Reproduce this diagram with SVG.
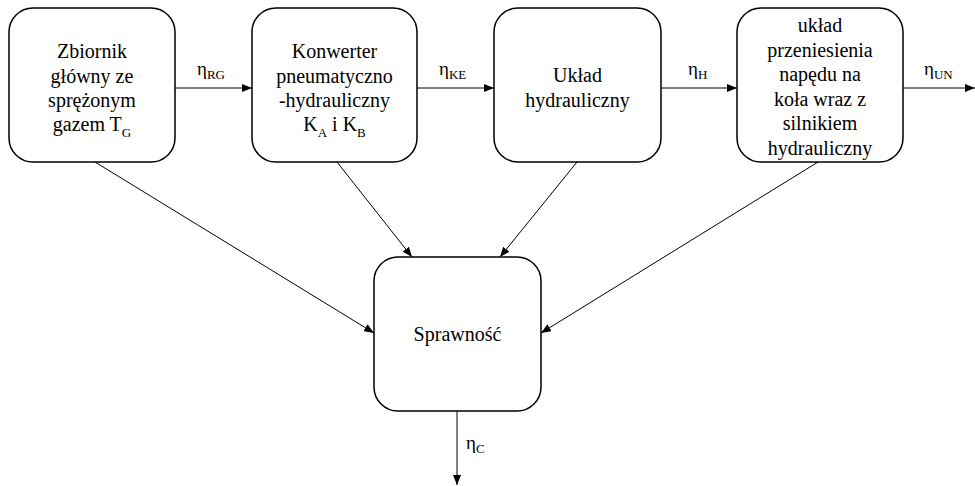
<svg xmlns="http://www.w3.org/2000/svg" width="975" height="486" viewBox="0 0 975 486">
<defs>
<marker id="ah" viewBox="0 0 10 8" refX="10" refY="4" markerWidth="10" markerHeight="8" markerUnits="userSpaceOnUse" orient="auto">
<path d="M0,0 L10,4 L0,8 Z" fill="#000"/>
</marker>
</defs>
<style>
text{font-family:'Liberation Serif','Times New Roman',serif;fill:#000}
.box{fill:#fff;stroke:#000;stroke-width:1.5}
.t{font-size:20px;text-anchor:middle}
.l{font-size:19px}
.s{font-size:13px}
.c{stroke:#000;stroke-width:1;fill:none;marker-end:url(#ah)}
</style>
<rect width="975" height="486" fill="#fff"/>
<g id="connectors">
<line class="c" x1="175" y1="88" x2="252" y2="88"/>
<line class="c" x1="417" y1="88" x2="494" y2="88"/>
<line class="c" x1="661" y1="88" x2="737" y2="88"/>
<line class="c" x1="903" y1="88" x2="975" y2="88"/>
<line class="c" x1="95" y1="162" x2="374" y2="333"/>
<line class="c" x1="337" y1="162" x2="412" y2="257"/>
<line class="c" x1="577" y1="162" x2="500" y2="257"/>
<line class="c" x1="818" y1="162" x2="541" y2="333"/>
<line class="c" x1="457" y1="411" x2="457" y2="485"/>
<text class="l" x="197" y="75">η<tspan class="s" dy="4">RG</tspan></text>
<text class="l" x="439" y="75">η<tspan class="s" dy="4">KE</tspan></text>
<text class="l" x="688" y="75">η<tspan class="s" dy="4">H</tspan></text>
<text class="l" x="924" y="75">η<tspan class="s" dy="4">UN</tspan></text>
<text class="l" x="466" y="449">η<tspan class="s" dy="4">C</tspan></text>
</g>
<g id="n1">
<rect class="box" x="9" y="8" width="166" height="154" rx="24"/>
<text class="t" x="92" y="58">Zbiornik</text>
<text class="t" x="92" y="82.5">główny ze</text>
<text class="t" x="92" y="107">sprężonym</text>
<text class="t" x="92" y="131">gazem T<tspan class="s" dy="6">G</tspan></text>
</g>
<g id="n2">
<rect class="box" x="252" y="8" width="165" height="154" rx="24"/>
<text class="t" x="334.5" y="58">Konwerter</text>
<text class="t" x="334.5" y="82.5">pneumatyczno</text>
<text class="t" x="334.5" y="107">-hydrauliczny</text>
<text class="t" x="334.5" y="131">K<tspan class="s" dy="6">A</tspan><tspan dy="-6"> i K</tspan><tspan class="s" dy="6">B</tspan></text>
</g>
<g id="n3">
<rect class="box" x="494" y="8" width="167" height="154" rx="24"/>
<text class="t" x="577.5" y="82">Układ</text>
<text class="t" x="577.5" y="106.5">hydrauliczny</text>
</g>
<g id="n4">
<rect class="box" x="737" y="8" width="166" height="154" rx="24"/>
<text class="t" x="820" y="32">układ</text>
<text class="t" x="820" y="56.5">przeniesienia</text>
<text class="t" x="820" y="81">napędu na</text>
<text class="t" x="820" y="105.5">koła wraz z</text>
<text class="t" x="820" y="130">silnikiem</text>
<text class="t" x="820" y="154.5">hydrauliczny</text>
</g>
<g id="n5">
<rect class="box" x="374" y="257" width="167" height="154" rx="24"/>
<text class="t" x="457.5" y="341">Sprawność</text>
</g>
</svg>
